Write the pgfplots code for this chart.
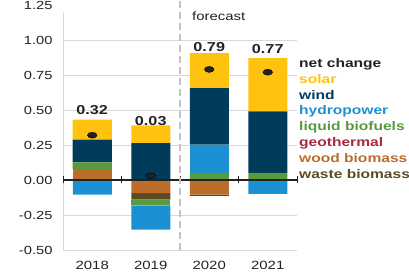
\documentclass[border=0pt]{standalone}
\usepackage{pgfplots}
\pgfplotsset{compat=1.18}
\usepackage{fontspec}
\setmainfont[FakeStretch=1.25]{Liberation Sans}
\definecolor{solar}{HTML}{FFC20E}
\definecolor{wind}{HTML}{003B5C}
\definecolor{hydro}{HTML}{1B91D3}
\definecolor{liquid}{HTML}{5A9A3E}
\definecolor{geo}{HTML}{A8293F}
\definecolor{wood}{HTML}{BA6E2A}
\definecolor{waste}{HTML}{5C4A22}
\definecolor{net}{HTML}{222222}
\definecolor{gridc}{HTML}{D9D9D9}
\begin{document}
\begin{tikzpicture}[x=1bp,y=1bp]
\useasboundingbox (0,0) rectangle (409,275);
\pgfplotsset{base/.style={
  at={(63bp,25bp)}, anchor=south west, scale only axis,
  width=234bp, height=245bp,
  xmin=-0.5, xmax=3.5, ymin=-0.5, ymax=1.25, clip=false,
  axis line style={draw=none}, tick style={draw=none},
}}
% axis 1: grid, y ticks, positive components
\begin{axis}[base, ybar stacked, bar width=39bp,
  xtick=\empty,
  ytick={-0.5,-0.25,0,0.25,0.5,0.75,1.0},
  extra y ticks={1.25}, extra y tick style={grid=none},
  ymajorgrids, grid style={gridc, line width=0.8bp},
  /pgf/number format/assume math mode=true,
  yticklabel style={font=\fontsize{11.8}{13}\selectfont, text=net, xshift=-7bp,
    /pgf/number format/fixed, /pgf/number format/fixed zerofill, /pgf/number format/precision=2},
]
\addplot[fill=wood, draw=none] coordinates {(0,0.079) (1,0) (2,0) (3,0)};
\addplot[fill=liquid, draw=none] coordinates {(0,0.047) (1,0) (2,0.050) (3,0.050)};
\addplot[fill=hydro, draw=none] coordinates {(0,0) (1,0) (2,0.202) (3,0)};
\addplot[fill=wind, draw=none] coordinates {(0,0.162) (1,0.264) (2,0.405) (3,0.441)};
\addplot[fill=solar, draw=none] coordinates {(0,0.143) (1,0.127) (2,0.250) (3,0.380)};
\draw[gridc, line width=0.8bp] (axis cs:-0.5,-0.5) -- (axis cs:-0.5,1.2);
\end{axis}
% axis 2: negative components
\begin{axis}[base, ybar stacked, bar width=39bp, xtick=\empty, ytick=\empty]
\addplot[fill=wood, draw=none] coordinates {(0,0) (1,-0.093) (2,-0.105) (3,0)};
\addplot[fill=waste, draw=none] coordinates {(0,0) (1,-0.048) (2,-0.008) (3,0)};
\addplot[fill=liquid, draw=none] coordinates {(0,0) (1,-0.040) (2,0) (3,0)};
\addplot[fill=hydro, draw=none] coordinates {(0,-0.105) (1,-0.174) (2,0) (3,-0.100)};
\end{axis}
% axis 3: zero line, dashed forecast line, net change, labels
\begin{axis}[base, ytick=\empty,
  xtick={0,1,2,3}, xticklabels={2018,2019,2020,2021},
  xticklabel style={font=\fontsize{12}{13}\selectfont, text=net, yshift=-8bp},
]
\draw[net, line width=1.1bp] (axis cs:-0.5,0) -- (axis cs:3.5,0);
\pgfplotsinvokeforeach{-0.5,0.5,1.5,2.5,3.5}{
  \draw[net, line width=0.8bp] (axis cs:#1,-0.025) -- (axis cs:#1,0.025);
}
\draw[gridc!90!black, line width=1.3bp, dash pattern=on 7bp off 4bp] (axis cs:1.5,-0.5) -- (axis cs:1.5,1.285);
\addplot[only marks, mark=*, mark size=3bp, mark options={xscale=1.6, fill=net, draw=none}]
  coordinates {(0,0.32) (1,0.03) (2,0.79) (3,0.77)};
\node[anchor=base, inner sep=0, font=\fontsize{13}{14}\selectfont\bfseries, text=net] at (axis cs:0,0.471) {0.32};
\node[anchor=base, inner sep=0, font=\fontsize{13}{14}\selectfont\bfseries, text=net] at (axis cs:1,0.386) {0.03};
\node[anchor=base, inner sep=0, font=\fontsize{13}{14}\selectfont\bfseries, text=net] at (axis cs:2,0.921) {0.79};
\node[anchor=base, inner sep=0, font=\fontsize{13}{14}\selectfont\bfseries, text=net] at (axis cs:3,0.90) {0.77};
\node[anchor=base west, inner sep=0, font=\fontsize{12}{13}\selectfont, text=net] at (axis cs:1.705,1.136) {forecast};
\end{axis}
% legend as coloured text
\begin{scope}[every node/.style={anchor=base west, inner sep=0, font=\fontsize{12.5}{14}\selectfont\bfseries}]
\node[text=net] at (299,207.7) {net change};
\node[text=solar] at (299,191.8) {solar};
\node[text=wind] at (299,176.0) {wind};
\node[text=hydro] at (299,160.1) {hydropower};
\node[text=liquid] at (299,144.3) {liquid biofuels};
\node[text=geo] at (299,128.4) {geothermal};
\node[text=wood] at (299,112.5) {wood biomass};
\node[text=waste] at (299,96.7) {waste biomass};
\end{scope}
\end{tikzpicture}
\end{document}
